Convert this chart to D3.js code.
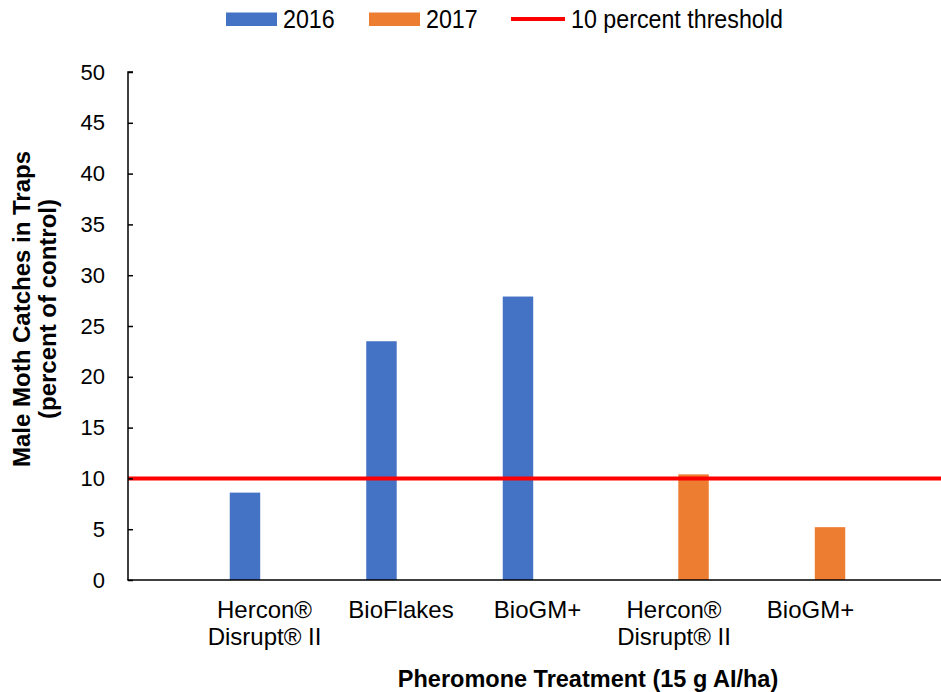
<!DOCTYPE html>
<html><head><meta charset="utf-8">
<script src="https://cdn.jsdelivr.net/npm/d3@7"></script>
<style>html,body{margin:0;padding:0;background:#fff;}svg{display:block;}</style>
</head><body>
<svg id="chart" width="941" height="692"></svg>
<script>
const categories = ["Hercon®|Disrupt® II", "BioFlakes", "BioGM+", "Hercon®|Disrupt® II", "BioGM+"];
const seriesNames = ["2016", "2017"];
const values2016 = [8.6, 23.5, 27.9, null, null];
const values2017 = [null, null, null, 10.4, 5.2];
const yTicks = [0, 5, 10, 15, 20, 25, 30, 35, 40, 45, 50];
const thresholdValue = 10;
const thresholdLabel = "10 percent threshold";
const xTitle = "Pheromone Treatment (15 g AI/ha)";
const yTitle = ["Male Moth Catches in Traps", "(percent of control)"];

const colors = {"2016": "#4472C4", "2017": "#ED7D31"};
const W = 941, H = 692;
const mLeft = 128, mRight = 947, mTop = 72, mBottom = 580;
const font = "'Liberation Sans', Arial, sans-serif";

const svg = d3.select("#chart");
svg.append("rect").attr("width", W).attr("height", H).attr("fill", "#fff");

const ids = categories.map((c, i) => i);
const x = d3.scalePoint().domain(ids).range([mLeft, mRight]).padding(1);
const x1 = d3.scaleBand().domain(seriesNames).range([-34.75, 34.75]).paddingInner(0.22).paddingOuter(0);
const y = d3.scaleLinear().domain([0, 50]).range([mBottom, mTop]);

const rows = [];
ids.forEach(i => {
  if (values2016[i] != null) rows.push({i, s: "2016", v: values2016[i]});
  if (values2017[i] != null) rows.push({i, s: "2017", v: values2017[i]});
});

svg.append("g").selectAll("rect").data(rows).join("rect")
  .attr("x", d => x(d.i) + x1(d.s))
  .attr("width", x1.bandwidth())
  .attr("y", d => y(d.v))
  .attr("height", d => y(0) - y(d.v))
  .attr("fill", d => colors[d.s]);

// threshold
svg.append("line").attr("x1", mLeft).attr("x2", W).attr("y1", y(thresholdValue)).attr("y2", y(thresholdValue))
  .attr("stroke", "#ff0000").attr("stroke-width", 4);

// y axis (ticks pointing inward)
const yAxis = svg.append("g").attr("transform", `translate(${mLeft},0)`)
  .call(d3.axisLeft(y).tickValues(yTicks).tickSize(-5).tickPadding(23).tickFormat(d3.format("d")));
yAxis.select(".domain").attr("stroke", "#000").attr("stroke-width", 1.5).attr("d", `M5,${mTop}H0V${mBottom}`);
yAxis.selectAll(".tick line").attr("stroke", "#000").attr("stroke-width", 1.5);
yAxis.selectAll(".tick text").attr("font-family", font).attr("font-size", 22).attr("fill", "#000");

// x axis line
svg.append("line").attr("x1", mLeft - 0.75).attr("x2", W).attr("y1", mBottom).attr("y2", mBottom)
  .attr("stroke", "#000").attr("stroke-width", 1.5);

// x labels
const xl = svg.append("g");
ids.forEach(i => {
  const lines = categories[i].split("|");
  const t = xl.append("text").attr("x", x(i)).attr("y", 618)
    .attr("text-anchor", "middle").attr("font-family", font).attr("font-size", 24).attr("fill", "#000");
  lines.forEach((l, k) => t.append("tspan").attr("x", x(i)).attr("dy", k === 0 ? 0 : 27).text(l));
});

// titles
svg.append("text").attr("x", 588).attr("y", 687).attr("text-anchor", "middle")
  .attr("font-family", font).attr("font-size", 23.5).attr("font-weight", "bold").text(xTitle);
const yt = svg.append("text").attr("transform", "translate(0,309) rotate(-90)")
  .attr("text-anchor", "middle").attr("font-family", font).attr("font-size", 24).attr("font-weight", "bold");
yTitle.forEach((l, k) => yt.append("tspan").attr("x", 0).attr("y", k === 0 ? 30 : 56).text(l));

// legend
const lg = svg.append("g").attr("font-family", font).attr("font-size", 25);
const legendItems = [
  {type: "rect", key: "2016", label: seriesNames[0], x: 226},
  {type: "rect", key: "2017", label: seriesNames[1], x: 369},
  {type: "line", label: thresholdLabel, x: 511}
];
legendItems.forEach(it => {
  if (it.type === "rect") {
    lg.append("rect").attr("x", it.x).attr("y", 12.5).attr("width", 51).attr("height", 13.5).attr("fill", colors[it.key]);
  } else {
    lg.append("line").attr("x1", it.x).attr("x2", it.x + 54).attr("y1", 19).attr("y2", 19)
      .attr("stroke", "#ff0000").attr("stroke-width", 4);
  }
  const tx = it.x + (it.type === "rect" ? 57 : 60);
  lg.append("text").attr("transform", `translate(${tx},27.5) scale(0.93,1)`).attr("fill", "#000").text(it.label);
});
</script>
</body></html>
